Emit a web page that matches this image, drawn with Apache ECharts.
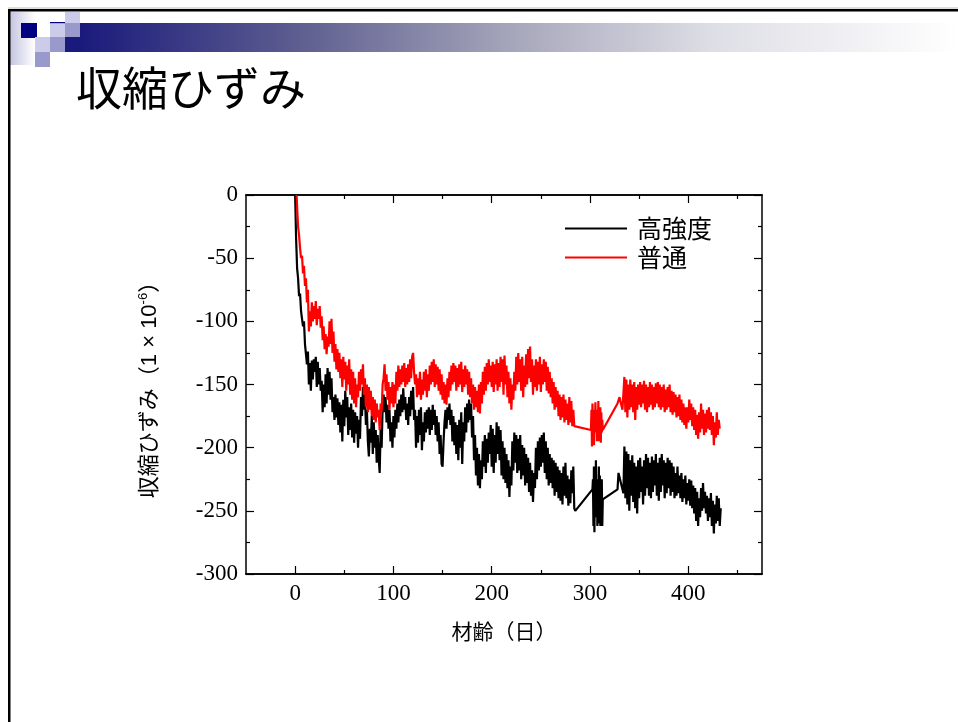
<!DOCTYPE html>
<html><head><meta charset="utf-8">
<script src="https://cdn.jsdelivr.net/npm/echarts@6/dist/echarts.min.js"></script>
<style>html,body{margin:0;padding:0;background:#fff}#c{width:958px;height:722px}</style>
</head><body><div id="c"></div>
<script>
const titleText = '収縮ひずみ';
const xName = '材齢（日）';
const seriesNames = ['高強度', '普通'];
const xMajorTicks = [0, 100, 200, 300, 400];
const xMinorTicks = [50, 150, 250, 350, 450];

const highStrength = [
[0,0],[1,-35],[2,-58],[3,-66],[4,-80],[5,-78],[6,-92],[7,-98],[8,-104],[9,-100],
[10,-118],[11,-126],[12,-134],[13,-124],[14,-150],[15,-133],[16,-155],[17,-131],[18,-146],[19,-130],
[20,-140],[21,-128],[22,-152],[23,-132],[24,-150],[25,-137],[26,-155],[27,-147],[28,-172],[29,-150],
[30,-168],[31,-142],[32,-165],[33,-137],[34,-158],[35,-140],[36,-162],[37,-145],[38,-172],[39,-160],
[40,-178],[41,-158],[42,-176],[43,-161],[44,-182],[45,-164],[46,-188],[47,-166],[48,-195],[49,-162],
[50,-183],[51,-155],[52,-176],[53,-160],[54,-190],[55,-168],[56,-186],[57,-165],[58,-192],[59,-170],
[60,-196],[61,-172],[62,-189],[63,-175],[64,-200],[65,-178],[66,-193],[67,-160],[68,-175],[69,-152],
[70,-170],[71,-158],[72,-182],[73,-170],[74,-195],[75,-207],[76,-185],[77,-196],[78,-175],[79,-205],
[80,-180],[81,-200],[82,-186],[83,-212],[84,-190],[85,-208],[86,-220],[87,-185],[88,-200],[89,-168],
[90,-158],[91,-172],[92,-160],[93,-180],[94,-166],[95,-185],[96,-170],[97,-195],[98,-180],[99,-200],
[100,-175],[101,-192],[102,-170],[103,-185],[104,-165],[105,-180],[106,-162],[107,-175],[108,-158],[109,-172],
[110,-153],[111,-170],[112,-160],[113,-178],[114,-165],[115,-182],[116,-160],[117,-175],[118,-155],[119,-170],
[120,-152],[121,-178],[122,-170],[123,-200],[124,-175],[125,-196],[126,-170],[127,-190],[128,-168],[129,-202],
[130,-180],[131,-195],[132,-172],[133,-188],[134,-170],[135,-185],[136,-168],[137,-190],[138,-170],[139,-186],
[140,-166],[141,-182],[142,-170],[143,-190],[144,-175],[145,-195],[146,-180],[147,-205],[148,-190],[149,-213],
[150,-215],[151,-195],[152,-180],[153,-170],[154,-185],[155,-168],[156,-178],[157,-165],[158,-182],[159,-170],
[160,-195],[161,-175],[162,-198],[163,-180],[164,-205],[165,-182],[166,-210],[167,-178],[168,-200],[169,-172],
[170,-213],[171,-180],[172,-195],[173,-168],[174,-188],[175,-165],[176,-180],[177,-162],[178,-178],[179,-165],
[180,-192],[181,-175],[182,-210],[183,-190],[184,-222],[185,-200],[186,-230],[187,-205],[188,-232],[189,-210],
[190,-225],[191,-195],[192,-215],[193,-190],[194,-220],[195,-193],[196,-212],[197,-188],[198,-205],[199,-182],
[200,-215],[201,-185],[202,-220],[203,-190],[204,-212],[205,-180],[206,-205],[207,-183],[208,-210],[209,-186],
[210,-222],[211,-195],[212,-225],[213,-200],[214,-228],[215,-205],[216,-232],[217,-210],[218,-239],[219,-215],
[220,-230],[221,-195],[222,-218],[223,-188],[224,-212],[225,-190],[226,-220],[227,-193],[228,-218],[229,-190],
[230,-225],[231,-198],[232,-222],[233,-200],[234,-230],[235,-205],[236,-228],[237,-208],[238,-235],[239,-212],
[240,-238],[241,-218],[242,-243],[243,-220],[244,-232],[245,-200],[246,-225],[247,-195],[248,-218],[249,-192],
[250,-215],[251,-190],[252,-212],[253,-188],[254,-220],[255,-195],[256,-225],[257,-200],[258,-230],[259,-205],
[260,-228],[261,-208],[262,-232],[263,-210],[264,-238],[265,-212],[266,-235],[267,-215],[268,-240],[269,-218],
[270,-242],[271,-220],[272,-245],[273,-215],[274,-238],[275,-212],[276,-240],[277,-222],[278,-246],[279,-225],
[280,-244],[281,-218],[282,-236],[283,-215],[284,-248],[285,-250],
[302.5,-233],[303,-225],[303.5,-262],[304,-215],[304.5,-267],[305,-220],[305.5,-255],[306,-210],[306.5,-245],[307,-225],
[307.5,-262],[308,-232],[308.5,-250],[309,-215],[309.5,-260],[310,-222],[310.5,-262],[311,-230],[311.5,-255],[312,-225],
[312.5,-262],[313,-241],
[328,-233],[329,-220],[334,-236],[335,-199],
[336,-240],[337,-203],[338,-245],[339,-205],[340,-250],[341,-210],[342,-238],[343,-206],[344,-243],[345,-212],
[346,-248],[347,-215],[348,-252],[349,-210],[350,-240],[351,-208],[352,-235],[353,-215],[354,-245],[355,-210],
[356,-238],[357,-205],[358,-232],[359,-208],[360,-238],[361,-212],[362,-240],[363,-207],[364,-235],[365,-210],
[366,-230],[367,-205],[368,-238],[369,-212],[370,-242],[371,-208],[372,-235],[373,-205],[374,-230],[375,-210],
[376,-240],[377,-212],[378,-236],[379,-208],[380,-232],[381,-210],[382,-238],[383,-212],[384,-235],[385,-215],
[386,-240],[387,-220],[388,-238],[389,-215],[390,-236],[391,-222],[392,-240],[393,-220],[394,-243],[395,-225],
[396,-240],[397,-222],[398,-245],[399,-228],[400,-242],[401,-225],[402,-246],[403,-226],[404,-248],[405,-230],
[406,-252],[407,-232],[408,-258],[409,-235],[410,-262],[411,-240],[412,-255],[413,-232],[414,-250],[415,-228],
[416,-248],[417,-235],[418,-252],[419,-238],[420,-258],[421,-240],[422,-255],[423,-236],[424,-262],[425,-242],
[426,-268],[427,-245],[428,-260],[429,-238],[430,-258],[431,-240],[432,-262],[433,-248]
];

const normal = [
[1.5,0],[2,-10],[3,-25],[4,-32],[5,-42],[6,-50],[7,-48],[8,-62],[9,-56],
[10,-72],[11,-66],[12,-85],[13,-75],[14,-108],[15,-92],[16,-104],[17,-85],[18,-100],[19,-88],
[20,-98],[21,-84],[22,-103],[23,-90],[24,-98],[25,-88],[26,-105],[27,-96],[28,-115],[29,-104],
[30,-122],[31,-110],[32,-126],[33,-112],[34,-120],[35,-100],[36,-118],[37,-98],[38,-125],[39,-108],
[40,-132],[41,-118],[42,-138],[43,-122],[44,-140],[45,-125],[46,-145],[47,-130],[48,-152],[49,-128],
[50,-146],[51,-132],[52,-155],[53,-135],[54,-150],[55,-130],[56,-158],[57,-138],[58,-162],[59,-140],
[60,-165],[61,-145],[62,-168],[63,-150],[64,-160],[65,-140],[66,-155],[67,-138],[68,-150],[69,-134],
[70,-158],[71,-145],[72,-168],[73,-150],[74,-172],[75,-152],[76,-170],[77,-155],[78,-175],[79,-160],
[80,-178],[81,-162],[82,-180],[83,-165],[84,-176],[85,-170],[86,-186],[87,-165],[88,-172],[89,-150],
[90,-145],[91,-134],[92,-155],[93,-142],[94,-162],[95,-148],[96,-170],[97,-152],[98,-165],[99,-148],
[100,-168],[101,-150],[102,-165],[103,-140],[104,-155],[105,-135],[106,-152],[107,-138],[108,-150],[109,-135],
[110,-148],[111,-133],[112,-152],[113,-137],[114,-150],[115,-134],[116,-148],[117,-130],[118,-145],[119,-128],
[120,-125],[121,-140],[122,-150],[123,-142],[124,-160],[125,-145],[126,-158],[127,-140],[128,-162],[129,-146],
[130,-158],[131,-140],[132,-155],[133,-138],[134,-160],[135,-142],[136,-155],[137,-135],[138,-150],[139,-132],
[140,-148],[141,-130],[142,-152],[143,-134],[144,-150],[145,-136],[146,-155],[147,-138],[148,-158],[149,-142],
[150,-162],[151,-148],[152,-165],[153,-150],[154,-166],[155,-145],[156,-160],[157,-140],[158,-155],[159,-135],
[160,-150],[161,-133],[162,-148],[163,-135],[164,-155],[165,-137],[166,-152],[167,-134],[168,-150],[169,-132],
[170,-156],[171,-138],[172,-152],[173,-135],[174,-150],[175,-138],[176,-158],[177,-140],[178,-160],[179,-145],
[180,-165],[181,-150],[182,-170],[183,-152],[184,-168],[185,-155],[186,-172],[187,-150],[188,-173],[189,-148],
[190,-165],[191,-140],[192,-158],[193,-136],[194,-155],[195,-133],[196,-150],[197,-130],[198,-148],[199,-135],
[200,-152],[201,-132],[202,-156],[203,-134],[204,-150],[205,-130],[206,-155],[207,-133],[208,-152],[209,-128],
[210,-148],[211,-130],[212,-158],[213,-127],[214,-150],[215,-135],[216,-160],[217,-140],[218,-165],[219,-145],
[220,-170],[221,-150],[222,-162],[223,-140],[224,-155],[225,-128],[226,-150],[227,-125],[228,-148],[229,-130],
[230,-155],[231,-128],[232,-160],[233,-135],[234,-152],[235,-126],[236,-150],[237,-122],[238,-145],[239,-120],
[240,-148],[241,-130],[242,-158],[243,-135],[244,-152],[245,-130],[246,-155],[247,-132],[248,-150],[249,-128],
[250,-156],[251,-134],[252,-150],[253,-130],[254,-148],[255,-132],[256,-155],[257,-136],[258,-157],[259,-140],
[260,-160],[261,-145],[262,-165],[263,-148],[264,-170],[265,-152],[266,-168],[267,-155],[268,-175],[269,-158],
[270,-178],[271,-160],[272,-176],[273,-158],[274,-180],[275,-162],[276,-178],[277,-165],[278,-182],[279,-160],
[280,-180],[281,-163],[282,-183],[283,-170],[284,-183],
[301,-186],[301.5,-170],[302,-199],[302.5,-165],[303,-192],[303.5,-175],[304,-198],[304.5,-170],[305,-188],[305.5,-164],
[306,-185],[306.5,-172],[307,-195],[307.5,-170],[308,-190],[308.5,-163],[309,-195],[309.5,-175],[310,-190],[310.5,-168],
[311,-196],[311.5,-172],[312,-188],[312.5,-178],[313,-186],
[328,-165],[330,-160],[333,-170],[335,-144],
[336,-172],[337,-146],[338,-176],[339,-150],[340,-170],[341,-146],[342,-168],[343,-150],[344,-172],[345,-148],
[346,-178],[347,-152],[348,-170],[349,-150],[350,-166],[351,-148],[352,-168],[353,-150],[354,-165],[355,-147],
[356,-170],[357,-150],[358,-172],[359,-152],[360,-168],[361,-148],[362,-166],[363,-150],[364,-170],[365,-152],
[366,-168],[367,-149],[368,-165],[369,-148],[370,-168],[371,-150],[372,-170],[373,-152],[374,-168],[375,-150],
[376,-172],[377,-154],[378,-170],[379,-152],[380,-168],[381,-150],[382,-172],[383,-155],[384,-174],[385,-156],
[386,-172],[387,-158],[388,-176],[389,-160],[390,-175],[391,-158],[392,-178],[393,-162],[394,-180],[395,-165],
[396,-182],[397,-168],[398,-185],[399,-168],[400,-180],[401,-162],[402,-178],[403,-165],[404,-183],[405,-168],
[406,-186],[407,-170],[408,-190],[409,-174],[410,-193],[411,-172],[412,-188],[413,-165],[414,-185],[415,-170],
[416,-190],[417,-173],[418,-188],[419,-170],[420,-185],[421,-168],[422,-186],[423,-172],[424,-190],[425,-175],
[426,-198],[427,-180],[428,-192],[429,-172],[430,-190],[431,-178],[432,-185]
];

const chart = echarts.init(document.getElementById('c'), null, {renderer: 'canvas'});
const serif = '"Liberation Serif","Times New Roman",serif';
const cjk = '"Noto Sans CJK JP","Noto Sans",sans-serif';
const X_MIN = -50, X_MAX = 475, Y_MIN = -300, Y_MAX = 0;
const axisLine = {show: true, onZero: false, lineStyle: {color: '#000', width: 1.5}};

function xAxisDef(pos, ticks, len, labels) {
  return {
    type: 'value', position: pos, min: X_MIN, max: X_MAX, interval: 25,
    axisLine: axisLine,
    axisTick: {show: true, inside: true, length: len, customValues: ticks, lineStyle: {color: '#000', width: 1.2}},
    axisLabel: labels ? {show: true, customValues: xMajorTicks, color: '#000', fontFamily: serif, fontSize: 23, margin: 8} : {show: false},
    splitLine: {show: false}
  };
}
function yAxisDef(pos, labels) {
  return {
    type: 'value', position: pos, min: Y_MIN, max: Y_MAX, interval: 50,
    axisLine: axisLine,
    axisTick: {show: true, inside: true, length: 8, lineStyle: {color: '#000', width: 1.2}},
    minorTick: {show: true, splitNumber: 2, length: 4, lineStyle: {color: '#000', width: 1.2}},
    axisLabel: labels ? {show: true, color: '#000', fontFamily: serif, fontSize: 23, margin: 8} : {show: false},
    splitLine: {show: false}, minorSplitLine: {show: false}
  };
}

const xMain = xAxisDef('bottom', xMajorTicks, 8, true);
xMain.name = xName;
xMain.nameLocation = 'middle';
xMain.nameGap = 47;
xMain.nameTextStyle = {color: '#000', fontFamily: cjk, fontSize: 21};

const yMain = yAxisDef('left', true);
yMain.name = '{a|収縮ひずみ（1 × 10}{s|-6}{a|）}';
yMain.nameLocation = 'middle';
yMain.nameGap = 83;
yMain.nameRotate = 90;
yMain.nameTextStyle = {
  color: '#000',
  rich: {
    a: {fontFamily: '"Liberation Sans",' + cjk, fontSize: 22, color: '#000', lineHeight: 26},
    s: {fontFamily: '"Liberation Sans",sans-serif', fontSize: 13, color: '#000', lineHeight: 14, verticalAlign: 'top'}
  }
};

const grad = new echarts.graphic.LinearGradient(0, 0, 1, 0, [
  {offset: 0, color: '#1a1a7c'},
  {offset: 0.25, color: '#5e5e90'},
  {offset: 0.5, color: '#a8a8bc'},
  {offset: 0.72, color: '#dedee6'},
  {offset: 1, color: '#ffffff'}
]);
const leftGrad = new echarts.graphic.LinearGradient(0, 0, 1, 0, [
  {offset: 0, color: '#c4c4e2'},
  {offset: 1, color: '#ffffff'}
]);
const LIGHT = '#ccccea', MED = '#9999cc', NAVY = '#000080';

chart.setOption({
  animation: false,
  backgroundColor: '#fff',
  grid: {left: 246, right: 196, top: 195, bottom: 148, containLabel: false, outerBoundsMode: 'none'},
  legend: {
    orient: 'vertical', left: 560, top: 211, itemWidth: 62, itemHeight: 2, itemGap: 4,
    icon: 'rect',
    data: seriesNames,
    textStyle: {fontSize: 25, fontFamily: cjk, color: '#000', lineHeight: 25, padding: [0, 0, 0, 5]}
  },
  xAxis: [
    xMain,
    xAxisDef('bottom', xMinorTicks, 4, false),
    xAxisDef('top', xMajorTicks, 8, false),
    xAxisDef('top', xMinorTicks, 4, false)
  ],
  yAxis: [yMain, yAxisDef('right', false)],
  series: [
    {name: seriesNames[0], type: 'line', data: highStrength, symbol: 'none', showSymbol: false,
     color: '#000', lineStyle: {color: '#000', width: 2.2}, z: 3},
    {name: seriesNames[1], type: 'line', data: normal, symbol: 'none', showSymbol: false,
     color: '#ff0000', lineStyle: {color: '#ff0000', width: 2.2}, z: 4}
  ],
  graphic: {elements: [
    {type: 'rect', shape: {x: 80, y: 23, width: 878, height: 29}, style: {fill: grad}, z: -10},
    {type: 'rect', shape: {x: 65, y: 37, width: 16, height: 15}, style: {fill: '#1a1a7c'}, z: -10},
    {type: 'rect', shape: {x: 10, y: 12, width: 25, height: 53}, style: {fill: leftGrad}, z: -10},
    {type: 'rect', shape: {x: 65, y: 12, width: 15, height: 11}, style: {fill: LIGHT}, z: -9},
    {type: 'rect', shape: {x: 21, y: 23, width: 16, height: 15}, style: {fill: NAVY}, z: -9},
    {type: 'rect', shape: {x: 50, y: 23, width: 15, height: 14}, style: {fill: LIGHT}, z: -9},
    {type: 'rect', shape: {x: 50, y: 22, width: 15, height: 1.2}, style: {fill: NAVY}, z: -8},
    {type: 'rect', shape: {x: 65, y: 23, width: 15, height: 14}, style: {fill: MED}, z: -9},
    {type: 'rect', shape: {x: 35, y: 37, width: 15, height: 15}, style: {fill: LIGHT}, z: -9},
    {type: 'rect', shape: {x: 50, y: 37, width: 15, height: 15}, style: {fill: MED}, z: -9},
    {type: 'rect', shape: {x: 35, y: 52, width: 15, height: 15}, style: {fill: MED}, z: -9},
    {type: 'rect', shape: {x: 8, y: 7.5, width: 950, height: 1}, style: {fill: '#bbbbbb'}, z: -7},
    {type: 'rect', shape: {x: 8, y: 9, width: 950, height: 2.5}, style: {fill: '#000'}, z: -7},
    {type: 'rect', shape: {x: 8, y: 9, width: 2.5, height: 713}, style: {fill: '#000'}, z: -7},
    {type: 'text', x: 76, y: 88, style: {text: titleText, font: '46px ' + cjk, fill: '#000', textVerticalAlign: 'middle'}, z: 5}
  ]}
});
</script>
</body></html>
